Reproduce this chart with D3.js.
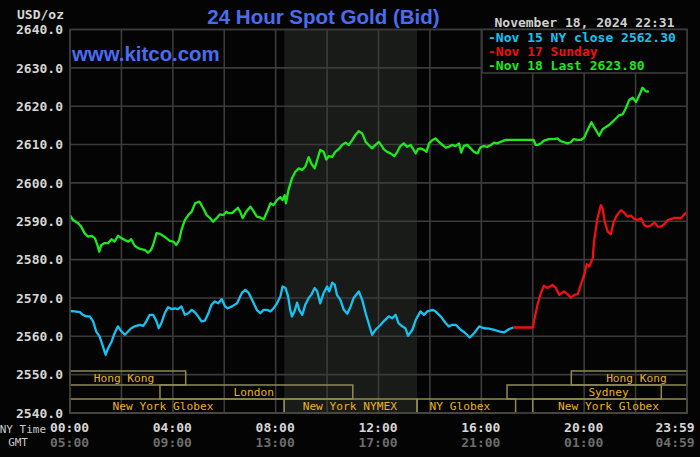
<!DOCTYPE html>
<html><head><meta charset="utf-8">
<script src="https://cdn.jsdelivr.net/npm/d3@7"></script>
<style>
html,body{margin:0;padding:0;background:#040404;}
svg{display:block;}
</style></head>
<body>
<svg id="chart" width="700" height="457"></svg>
<script>
// ---------- DATA ----------
const yTicks = [2540, 2550, 2560, 2570, 2580, 2590, 2600, 2610, 2620, 2630, 2640];
const xTickMinutes = [0, 240, 480, 720, 960, 1200, 1439];
const nyLabels = ["00:00", "04:00", "08:00", "12:00", "16:00", "20:00", "23:59"];
const gmtLabels = ["05:00", "09:00", "13:00", "17:00", "21:00", "01:00", "04:59"];
const gridMinutes = [0,120,240,360,480,600,720,840,960,1080,1200,1320,1440];

const nymexShade = [500, 810]; // 08:20 - 13:30 NY time

const sessionNames  = ["Hong Kong","London","New York Globex","New York NYMEX","NY Globex","Sydney","Hong Kong","New York Globex"];
const sessionRows   = [0, 1, 2, 2, 2, 1, 0, 2];
const sessionStarts = [0, 210, 0, 500, 810, 1020, 1170, 1080];
const sessionEnds   = [270, 660, 500, 810, 1040, 1380, 1440, 1440];
const sessionLabelAt= [126, 429, 217, 653, 910, 1257, 1322, 1257];

// Nov 15 NY close (cyan)
const nov15Minutes = [0,11,23,30,38,46,54,61,69,77,83,89,97,104,112,120,128,136,143,151,163,171,178,186,194,202,207,213,221,229,237,245,252,260,268,276,284,292,299,307,315,323,330,338,346,354,362,368,378,390,401,409,417,425,436,444,452,460,468,475,483,491,496,503,509,514,518,524,530,535,542,549,557,563,571,577,584,592,600,605,612,618,623,631,639,647,655,662,674,682,690,697,705,713,725,732,744,752,760,767,775,783,789,799,807,818,826,834,846,853,865,877,884,892,900,912,923,933,943,955,966,978,990,1001,1013,1025,1035];
const nov15Values = [2566.6,2566.5,2566.3,2565.6,2565.2,2565.2,2563.9,2561.3,2560.0,2557.3,2555.2,2556.9,2558.6,2560.8,2562.6,2561.3,2560.4,2561.3,2562.1,2562.6,2563.0,2562.7,2563.9,2565.6,2565.6,2563.9,2562.1,2563.4,2566.0,2567.6,2567.1,2567.3,2567.1,2567.8,2565.6,2566.0,2566.9,2566.2,2565.2,2563.9,2564.1,2566.0,2568.2,2569.1,2568.6,2569.7,2567.8,2567.3,2567.8,2568.6,2571.3,2572.1,2571.3,2569.5,2566.9,2566.0,2566.9,2566.9,2566.5,2567.3,2568.6,2570.4,2573.0,2572.6,2570.4,2566.9,2565.2,2566.5,2568.8,2566.9,2565.6,2568.2,2570.0,2570.8,2572.6,2571.7,2568.6,2571.3,2573.0,2571.7,2574.0,2573.4,2570.8,2569.5,2566.9,2565.9,2567.8,2570.0,2571.7,2569.5,2566.0,2563.4,2560.4,2561.7,2563.0,2563.9,2565.2,2564.7,2565.6,2563.4,2562.6,2562.1,2560.1,2561.7,2564.3,2566.5,2565.6,2566.5,2566.9,2566.5,2565.2,2563.4,2562.6,2563.0,2563.0,2561.7,2560.8,2559.7,2560.8,2562.6,2562.1,2562.0,2561.7,2561.3,2561.0,2561.9,2562.3];

// Nov 17 Sunday (red)
const nov17Minutes = [1035,1080,1083,1091,1099,1106,1114,1126,1134,1142,1153,1161,1169,1177,1185,1192,1200,1206,1212,1220,1223,1231,1239,1243,1248,1255,1262,1269,1276,1286,1293,1301,1309,1317,1325,1333,1340,1348,1356,1364,1372,1379,1387,1395,1403,1410,1418,1426,1432,1438];
const nov17Values = [2562.3,2562.3,2563.9,2568.2,2571.3,2573.2,2572.6,2573.4,2572.6,2570.8,2571.7,2571.0,2570.1,2570.8,2571.0,2573.4,2576.0,2578.8,2578.2,2580.4,2584.7,2590.8,2594.2,2593.4,2589.9,2587.3,2586.6,2589.9,2591.5,2592.9,2592.3,2591.2,2591.5,2590.6,2590.3,2590.8,2589.0,2588.6,2588.9,2589.7,2588.6,2588.6,2589.2,2590.3,2590.6,2590.9,2590.9,2590.8,2591.6,2592.3];

// Nov 18 Last (green)
const nov18Minutes = [0,7,19,26,34,42,50,58,64,68,73,81,89,97,104,112,120,128,136,143,151,159,167,175,182,189,194,202,210,217,225,233,241,248,255,260,268,276,284,292,302,311,319,327,334,342,350,358,365,370,378,386,392,397,403,411,421,429,436,444,452,460,468,475,483,491,496,501,504,510,518,526,534,542,549,557,563,571,577,584,592,598,604,612,619,627,635,643,651,659,666,674,682,690,697,705,713,721,729,732,740,748,757,764,771,779,787,795,801,807,812,818,826,832,838,846,853,861,869,877,884,892,900,908,913,919,927,935,943,951,958,966,974,982,990,997,1005,1017,1082,1087,1091,1099,1106,1118,1130,1138,1145,1153,1161,1169,1175,1185,1192,1200,1208,1217,1225,1235,1243,1251,1258,1266,1274,1282,1290,1297,1305,1313,1321,1329,1336,1344,1351];
const nov18Values = [2591.6,2590.3,2589.5,2588.6,2586.9,2586.0,2586.2,2585.6,2583.8,2582.1,2583.8,2584.3,2584.3,2585.3,2584.7,2586.2,2585.6,2585.1,2584.7,2585.3,2583.6,2583.0,2582.7,2582.5,2581.8,2582.5,2583.8,2586.9,2586.7,2586.2,2585.6,2584.9,2584.7,2583.8,2585.1,2587.7,2590.3,2591.6,2592.5,2594.7,2595.1,2593.4,2591.6,2590.8,2589.9,2590.8,2591.8,2591.6,2592.5,2592.1,2592.1,2592.9,2593.5,2592.5,2590.8,2592.5,2593.8,2592.5,2591.2,2591.0,2590.5,2592.5,2594.7,2594.2,2595.5,2596.3,2595.5,2596.8,2594.7,2598.2,2601.2,2602.9,2603.8,2603.4,2604.2,2606.7,2605.1,2603.8,2606.0,2608.6,2608.1,2606.1,2607.0,2606.8,2608.1,2608.8,2609.9,2610.5,2609.9,2611.2,2612.5,2613.5,2612.9,2610.7,2609.9,2609.0,2609.9,2610.7,2609.4,2608.8,2608.1,2607.7,2607.0,2608.1,2609.6,2610.3,2609.4,2609.9,2608.8,2607.7,2608.8,2609.0,2608.6,2608.1,2610.3,2611.2,2611.6,2610.7,2609.9,2609.2,2609.4,2609.9,2609.6,2610.3,2607.9,2609.6,2609.9,2609.0,2608.1,2607.7,2609.3,2609.6,2609.4,2609.9,2610.5,2610.3,2610.7,2611.2,2611.2,2609.9,2609.9,2610.3,2611.0,2611.4,2611.4,2611.6,2610.9,2610.6,2610.3,2610.6,2611.4,2611.2,2611.2,2611.8,2613.8,2615.8,2614.2,2612.3,2614.0,2614.6,2615.1,2615.9,2616.8,2617.7,2617.9,2619.4,2621.6,2622.2,2621.1,2622.9,2624.8,2623.9,2623.8];

const legendLabels = ["-Nov 15 NY close 2562.30", "-Nov 17 Sunday", "-Nov 18 Last 2623.80"];
const legendColors = ["#14c3f2", "#f01010", "#1ee81e"];
const titleText = "24 Hour Spot Gold (Bid)";
const siteText = "www.kitco.com";
const stampText = "November 18, 2024 22:31";
const unitText = "USD/oz";

// ---------- DRAW ----------
const svg = d3.select("#chart");
const W = 700, H = 457;
const pLeft = 70, pRight = 687, pTop = 29.5, pBottom = 413;
const x = d3.scaleLinear().domain([0, 1440]).range([pLeft, pRight]);
const y = d3.scaleLinear().domain([2540, 2640]).range([pBottom, pTop]);
const mono = "'DejaVu Sans Mono', monospace";
const gridColor = "#3b3b3b";

svg.append("rect").attr("width", W).attr("height", H).attr("fill", "#040404");

// NYMEX shaded region
svg.append("rect")
  .attr("x", x(nymexShade[0])).attr("y", pTop)
  .attr("width", x(nymexShade[1]) - x(nymexShade[0]))
  .attr("height", pBottom - pTop)
  .attr("fill", "#191b18");

// grid
const grid = svg.append("g");
grid.selectAll("line.h").data(yTicks).join("line").attr("class", "h")
  .attr("x1", pLeft).attr("x2", pRight)
  .attr("y1", d => y(d)).attr("y2", d => y(d))
  .attr("stroke", gridColor).attr("stroke-width", 1.6);
grid.selectAll("line.v").data(gridMinutes).join("line").attr("class", "v")
  .attr("x1", d => x(d)).attr("x2", d => x(d))
  .attr("y1", pTop).attr("y2", pBottom)
  .attr("stroke", gridColor).attr("stroke-width", 1.6);

// sessions
const rowH = 14;
const rowTop = r => pBottom - (3 - r) * rowH;
const sess = svg.append("g");
sessionNames.forEach((n, i) => {
  sess.append("rect")
    .attr("x", x(sessionStarts[i])).attr("y", rowTop(sessionRows[i]))
    .attr("width", x(sessionEnds[i]) - x(sessionStarts[i]))
    .attr("height", rowH)
    .attr("fill", "none").attr("stroke", "#8e8a52").attr("stroke-width", 1.5);
  sess.append("text")
    .attr("x", x(sessionLabelAt[i])).attr("y", rowTop(sessionRows[i]) + rowH / 2)
    .attr("text-anchor", "middle").attr("dominant-baseline", "central")
    .attr("font-family", mono).attr("font-size", 11.2)
    .attr("fill", "#e8b418").text(n);
});

// lines
const line = d3.line().x(d => x(d[0])).y(d => y(d[1]));
function drawSeries(mins, vals, color) {
  svg.append("path").datum(mins.map((m, i) => [m, vals[i]]))
    .attr("d", line).attr("fill", "none")
    .attr("stroke", color).attr("stroke-width", 2.3)
    .attr("stroke-linejoin", "round");
}
drawSeries(nov15Minutes, nov15Values, legendColors[0]);
drawSeries(nov17Minutes, nov17Values, legendColors[1]);
drawSeries(nov18Minutes, nov18Values, legendColors[2]);

// y axis labels
const yAxis = d3.axisLeft(y).tickValues(yTicks).tickSize(0).tickPadding(7)
  .tickFormat(d => d.toFixed(1));
const gy = svg.append("g").attr("transform", `translate(${pLeft},0)`).call(yAxis);
gy.select(".domain").remove();
gy.selectAll("text").attr("font-family", mono).attr("font-weight", "bold")
  .attr("font-size", 13).attr("fill", "#d6d6d6");

// x axis labels (NY + GMT)
function xLabels(labels, yPos, color) {
  const ax = d3.axisBottom(x).tickValues(xTickMinutes).tickSize(0).tickPadding(0)
    .tickFormat((d, i) => labels[i]);
  const g = svg.append("g").attr("transform", `translate(0,${yPos})`).call(ax);
  g.select(".domain").remove();
  g.selectAll("text").attr("font-family", mono).attr("font-weight", "bold")
    .attr("font-size", 13).attr("fill", color).attr("y", 0).attr("dy", "0.35em")
    .attr("dx", (d, i) => i === labels.length - 1 ? -12 : -1);
}
xLabels(nyLabels, 427, "#d6d6d6");
xLabels(gmtLabels, 442, "#6c6c6c");

svg.append("text").attr("x", 46).attr("y", 429).attr("text-anchor", "end")
  .attr("dominant-baseline", "central").attr("font-family", mono)
  .attr("font-size", 11).attr("fill", "#c8c8c8").text("NY Time");
svg.append("text").attr("x", 28).attr("y", 442).attr("text-anchor", "end")
  .attr("dominant-baseline", "central").attr("font-family", mono)
  .attr("font-size", 11).attr("fill", "#c8c8c8").text("GMT");

// plot border
svg.append("rect").attr("x", pLeft).attr("y", pTop).attr("width", pRight - pLeft)
  .attr("height", pBottom - pTop).attr("fill", "none")
  .attr("stroke", gridColor).attr("stroke-width", 1.6);

// unit
svg.append("text").attr("x", 64).attr("y", 14).attr("text-anchor", "end")
  .attr("dominant-baseline", "central").attr("font-family", mono).attr("font-weight", "bold")
  .attr("font-size", 13).attr("fill", "#d6d6d6").text(unitText);

// title + site
svg.append("text").attr("x", 323.5).attr("y", 24).attr("text-anchor", "middle")
  .attr("font-family", "'Liberation Sans', Arial, sans-serif").attr("font-weight", "bold")
  .attr("font-size", 20.5).attr("fill", "#4a6df0").text(titleText);
svg.append("text").attr("x", 72).attr("y", 61)
  .attr("font-family", "'Liberation Sans', Arial, sans-serif").attr("font-weight", "bold")
  .attr("font-size", 20.4).attr("fill", "#4a6df0").text(siteText);

// date stamp
svg.append("text").attr("x", 584.5).attr("y", 22).attr("text-anchor", "middle")
  .attr("dominant-baseline", "central").attr("font-family", mono).attr("font-weight", "bold")
  .attr("font-size", 13).attr("fill", "#d0d0d0").text(stampText);

// legend box
const lg = svg.append("g");
lg.append("rect").attr("x", 482).attr("y", pTop).attr("width", pRight - 482).attr("height", 73 - pTop)
  .attr("fill", "#040404").attr("stroke", gridColor).attr("stroke-width", 1.6);
legendLabels.forEach((t, i) => {
  lg.append("text").attr("x", 488).attr("y", 37.5 + i * 14)
    .attr("dominant-baseline", "central").attr("font-family", mono).attr("font-weight", "bold")
    .attr("font-size", 13).attr("fill", legendColors[i]).text(t);
});
</script>
</body></html>
